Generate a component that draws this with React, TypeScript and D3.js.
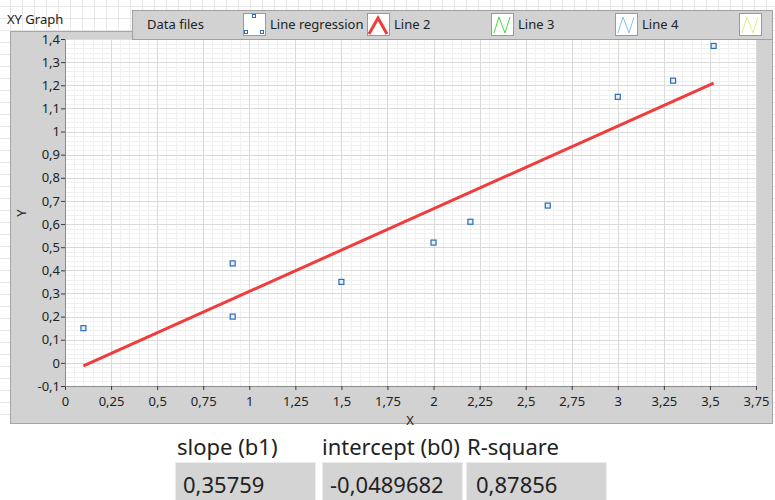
import React, { useEffect, useRef } from 'react'
import * as d3 from 'd3'

// data
const pointsX = [0.1, 0.91, 0.91, 1.5, 2.0, 2.2, 2.62, 3.0, 3.3, 3.52]
const pointsY = [0.15, 0.43, 0.2, 0.35, 0.52, 0.61, 0.68, 1.15, 1.22, 1.37]
const slope = 0.35759
const intercept = -0.0489682
const rSquare = 0.87856

const xTicks = [0, 0.25, 0.5, 0.75, 1, 1.25, 1.5, 1.75, 2, 2.25, 2.5, 2.75, 3, 3.25, 3.5, 3.75]
const yTicks = [-0.1, 0, 0.1, 0.2, 0.3, 0.4, 0.5, 0.6, 0.7, 0.8, 0.9, 1, 1.1, 1.2, 1.3, 1.4]

const legendLabels = ['Line regression', 'Line 2', 'Line 3', 'Line 4', '']
const legendColors = ['#2d6db5', '#f23b3b', '#3fdc3f', '#7cc5f0', '#d9f28a']
const resultLabels = ['slope (b1)', 'intercept (b0)', 'R-square']
const resultValues = [slope, intercept, rSquare]

const W = 775
const H = 500
const margin = { top: 39, right: 19, bottom: 114, left: 65 }
const FONT = '"Noto Sans", "DejaVu Sans", sans-serif'
const PANEL = '#d2d2d2'

const locale = d3.formatLocale({ decimal: ',', thousands: '.', grouping: [3], currency: ['', ''], minus: '-' })
const fmt = locale.format('~g')

export default function App() {
  const svgRef = useRef<SVGSVGElement>(null)

  useEffect(() => {
    if (!svgRef.current) return
    const svg = d3.select(svgRef.current)
    svg.selectAll('*').remove()

    const x0 = margin.left
    const x1 = W - margin.right
    const y0 = margin.top
    const y1 = H - margin.bottom

    const x = d3.scaleLinear().domain([0, 3.75]).range([x0, x1])
    const y = d3.scaleLinear().domain([-0.1, 1.4]).range([y1, y0])

    svg.append('rect').attr('width', W).attr('height', H).attr('fill', '#fff')

    // panel grid of the front panel
    const pg = svg.append('g').attr('stroke', '#e6e6e6').attr('stroke-width', 1)
    for (let gx = 10.5; gx < W; gx += 12) pg.append('line').attr('x1', gx).attr('x2', gx).attr('y1', 0).attr('y2', 425)
    for (let gy = 6.5; gy < 425; gy += 12) pg.append('line').attr('x1', 0).attr('x2', W).attr('y1', gy).attr('y2', gy)

    // graph frame
    svg.append('rect')
      .attr('x', 10.5).attr('y', 31.5).attr('width', 762).attr('height', 392)
      .attr('fill', PANEL).attr('stroke', '#a6a6a6')

    // plot area
    svg.append('rect')
      .attr('x', x0).attr('y', y0).attr('width', x1 - x0).attr('height', y1 - y0)
      .attr('fill', '#fff')

    const grid = svg.append('g')
    const minorX = d3.range(0, 3.75, 0.05)
    const minorY = d3.range(-0.1, 1.4, 0.02)
    grid.selectAll('.mx').data(minorX).enter().append('line')
      .attr('x1', d => Math.round(x(d)) + 0.5).attr('x2', d => Math.round(x(d)) + 0.5)
      .attr('y1', y0).attr('y2', y1).attr('stroke', '#f0f0f0')
    grid.selectAll('.my').data(minorY).enter().append('line')
      .attr('y1', d => Math.round(y(d)) + 0.5).attr('y2', d => Math.round(y(d)) + 0.5)
      .attr('x1', x0).attr('x2', x1).attr('stroke', '#f0f0f0')
    grid.selectAll('.gx').data(xTicks).enter().append('line')
      .attr('x1', d => Math.round(x(d)) + 0.5).attr('x2', d => Math.round(x(d)) + 0.5)
      .attr('y1', y0).attr('y2', y1).attr('stroke', '#dadada')
    grid.selectAll('.gy').data(yTicks).enter().append('line')
      .attr('y1', d => Math.round(y(d)) + 0.5).attr('y2', d => Math.round(y(d)) + 0.5)
      .attr('x1', x0).attr('x2', x1).attr('stroke', '#dadada')

    // axes
    const xAxis = svg.append('g')
      .attr('transform', `translate(0,${y1})`)
      .call(d3.axisBottom(x).tickValues(xTicks).tickFormat(d => fmt(+d)).tickSize(4).tickSizeOuter(0).tickPadding(7))
    const yAxis = svg.append('g')
      .attr('transform', `translate(${x0},0)`)
      .call(d3.axisLeft(y).tickValues(yTicks).tickFormat(d => fmt(+d)).tickSize(4).tickSizeOuter(0).tickPadding(1))
    ;[xAxis, yAxis].forEach(a => {
      a.selectAll('text').style('font-family', FONT).style('font-size', '13px').style('fill', '#222')
      a.select('.domain').attr('stroke', '#8c8c8c')
      a.selectAll('.tick line').attr('stroke', '#3a3a3a')
    })

    // regression line
    const xExt = d3.extent(pointsX) as [number, number]
    const line = d3.line<number>().x(d => x(d)).y(d => y(intercept + slope * d))
    svg.append('path')
      .datum(xExt)
      .attr('d', line)
      .attr('fill', 'none')
      .attr('stroke', legendColors[1])
      .attr('stroke-width', 3)

    // data points
    svg.append('g').selectAll('rect').data(pointsX).enter().append('rect')
      .attr('x', (d) => x(d) - 2.5)
      .attr('y', (d, i) => y(pointsY[i]) - 2.5)
      .attr('width', 5).attr('height', 5)
      .attr('fill', '#e6eef8').attr('stroke', legendColors[0]).attr('stroke-width', 1.2)

    // legend
    const lg = svg.append('g')
    lg.append('rect').attr('x', 132.5).attr('y', 10.5).attr('width', 640).attr('height', 29)
      .attr('fill', PANEL).attr('stroke', '#a0a0a0')
    lg.append('text').attr('x', 147).attr('y', 29).text('Data files')
      .style('font-family', FONT).style('font-size', '13px').attr('fill', '#222')
    const iconX = [243, 367, 491, 615, 739]
    legendLabels.forEach((label, i) => {
      const ix = iconX[i]
      const g = lg.append('g').attr('transform', `translate(${ix},13)`)
      g.append('rect').attr('x', 0.5).attr('y', 0.5).attr('width', 22).attr('height', 22)
        .attr('fill', '#fff').attr('stroke', '#9a9a9a')
      if (i === 0) {
        ;[[11, 3], [3, 19], [19, 19]].forEach(([px, py]) => {
          g.append('rect').attr('x', px - 1.5).attr('y', py - 1.5).attr('width', 3).attr('height', 3)
            .attr('fill', '#fff').attr('stroke', legendColors[0]).attr('stroke-width', 1)
        })
      } else if (i === 1) {
        g.append('path').attr('d', 'M2,21 L11,5 L20,21').attr('fill', 'none')
          .attr('stroke', legendColors[1]).attr('stroke-width', 3)
      } else {
        g.append('path').attr('d', 'M3,20 L8,4 L14,20 L19,4').attr('fill', 'none')
          .attr('stroke', legendColors[i]).attr('stroke-width', 1)
      }
      if (label) {
        lg.append('text').attr('x', ix + 27).attr('y', 29).text(label)
          .style('font-family', FONT).style('font-size', '13px').attr('fill', '#222')
      }
    })

    // titles
    svg.append('text').attr('x', 7).attr('y', 24).text('XY Graph')
      .style('font-family', FONT).style('font-size', '13px').attr('fill', '#222')
    svg.append('text').attr('transform', 'translate(26,213) rotate(-90)').attr('text-anchor', 'middle')
      .text('Y').style('font-family', FONT).style('font-size', '13px').attr('fill', '#222')

    // lower pane
    svg.append('rect').attr('x', 0).attr('y', 424).attr('width', W).attr('height', H - 424).attr('fill', '#fff')
    svg.append('line').attr('x1', 10).attr('x2', 773).attr('y1', 423.5).attr('y2', 423.5).attr('stroke', '#a6a6a6')
    svg.append('text').attr('x', 410).attr('y', 425).attr('text-anchor', 'middle')
      .text('X').style('font-family', FONT).style('font-size', '13px').attr('fill', '#222')

    const labelX = [177, 322, 467]
    const boxX = [175, 322, 466]
    const valueX = [183, 330, 476]
    resultLabels.forEach((label, i) => {
      svg.append('text').attr('x', labelX[i]).attr('y', 455).text(label)
        .style('font-family', FONT).style('font-size', '22px').attr('fill', '#222')
      svg.append('rect').attr('x', boxX[i] + 0.5).attr('y', 462.5).attr('width', 140).attr('height', 45)
        .attr('fill', '#d4d4d4').attr('stroke', '#ececec')
      svg.append('text').attr('x', valueX[i]).attr('y', 493).text(fmt(resultValues[i]))
        .style('font-family', FONT).style('font-size', '22px').attr('fill', '#222')
    })
  }, [])

  return (
    <svg
      ref={svgRef}
      width={W}
      height={H}
      style={{ position: 'absolute', left: 0, top: 0 }}
    />
  )
}
